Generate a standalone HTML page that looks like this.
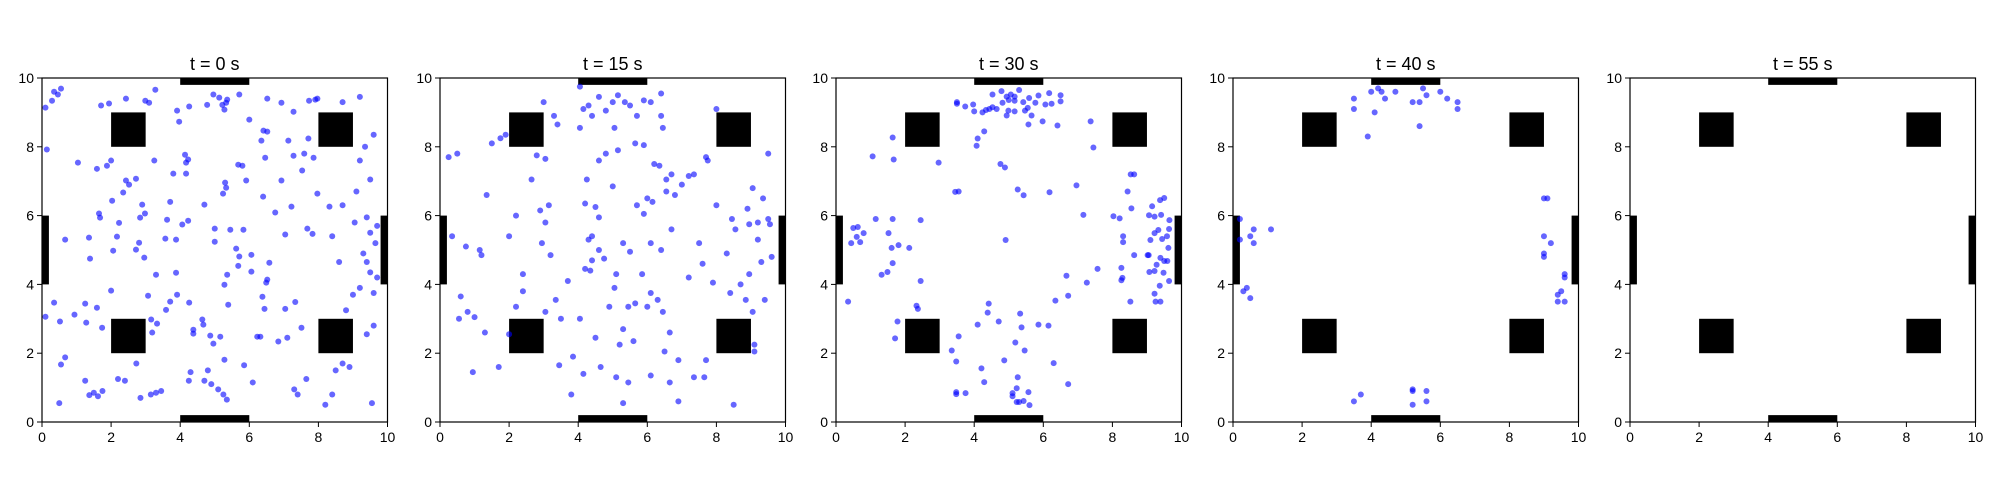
<!DOCTYPE html>
<html><head><meta charset="utf-8"><style>
html,body{margin:0;padding:0;background:#fff;}
svg{display:block;font-family:"Liberation Sans","DejaVu Sans",sans-serif;}
</style></head><body>
<svg id="fig" width="2000" height="500" viewBox="0 0 2000 500" xmlns="http://www.w3.org/2000/svg"></svg>
<script>
const panelTitles = ["t = 0 s","t = 15 s","t = 30 s","t = 40 s","t = 55 s"];
const tickValues = [0,2,4,6,8,10];
const obstacles = [[2,8,1,1],[8,8,1,1],[2,2,1,1],[8,2,1,1],[4,9.8,2,0.2],[4,0,2,0.2],[0,4,0.2,2],[9.8,4,0.2,2]];
const pointsT0 = [[0.1,9.14],[0.29,9.34],[0.35,9.6],[0.46,9.52],[0.55,9.69],[0.14,7.92],[1.04,7.54],[1.71,9.2],[1.94,9.26],[2.43,9.4],[2.99,9.34],[3.1,9.28],[3.28,9.66],[3.91,9.05],[3.97,8.73],[4.26,9.17],[4.78,9.22],[4.96,9.52],[5.13,9.43],[5.22,9.22],[5.28,9.08],[5.33,9.28],[5.36,9.37],[5.71,9.52],[6.0,8.79],[6.52,9.4],[6.35,8.18],[6.41,8.47],[6.52,8.44],[6.93,9.28],[7.28,9.02],[7.13,8.18],[7.73,9.34],[7.91,9.37],[7.97,9.4],[7.71,8.24],[7.28,7.74],[7.59,7.8],[7.86,7.68],[7.53,7.31],[6.46,7.68],[5.68,7.48],[5.8,7.45],[5.91,7.02],[5.3,6.96],[5.33,6.81],[5.24,6.64],[6.4,6.55],[6.93,7.02],[7.22,6.26],[7.97,6.64],[8.32,6.26],[6.75,6.09],[7.04,5.45],[7.68,5.62],[7.83,5.47],[1.59,7.36],[1.88,7.45],[2.0,7.6],[3.25,7.6],[4.14,7.77],[4.23,7.63],[4.17,7.54],[4.17,7.22],[3.8,7.22],[2.43,7.02],[2.52,6.9],[2.72,7.07],[2.35,6.67],[2.03,6.43],[2.9,6.32],[3.71,6.4],[4.7,6.32],[1.65,6.06],[1.68,5.94],[2.23,5.79],[2.84,5.94],[2.98,6.06],[3.62,5.88],[4.06,5.74],[4.23,5.85],[5.0,5.62],[5.45,5.59],[5.83,5.59],[0.67,5.3],[1.36,5.36],[1.39,4.75],[2.17,5.39],[2.06,4.98],[2.72,5.01],[2.81,5.21],[2.96,4.78],[3.57,5.33],[3.88,5.3],[5.0,5.24],[5.62,5.04],[5.71,4.81],[6.06,4.86],[5.68,4.54],[6.06,4.37],[6.58,4.63],[3.3,4.28],[3.88,4.34],[5.36,4.28],[5.28,3.99],[6.52,4.14],[6.49,4.05],[2.0,3.82],[3.07,3.67],[3.91,3.7],[0.35,3.47],[1.25,3.44],[1.59,3.32],[3.71,3.5],[4.26,3.47],[5.39,3.41],[6.38,3.64],[6.44,3.29],[7.04,3.29],[7.33,3.49],[0.1,3.06],[0.94,3.12],[0.52,2.92],[1.28,2.89],[1.74,2.74],[3.16,2.98],[3.33,2.86],[3.59,3.26],[3.19,2.6],[4.64,2.98],[4.67,2.83],[4.38,2.68],[4.38,2.57],[4.87,2.51],[5.16,2.48],[4.96,2.28],[6.23,2.48],[6.32,2.48],[6.84,2.34],[7.1,2.45],[7.51,2.74],[0.67,1.88],[5.28,1.81],[0.55,1.67],[0.5,0.55],[1.25,1.2],[1.37,0.78],[1.5,0.85],[1.62,0.75],[1.75,0.9],[2.2,1.25],[2.4,1.2],[2.73,1.7],[2.85,0.7],[3.15,0.8],[3.3,0.85],[3.45,0.9],[4.25,1.2],[4.3,1.45],[4.7,1.2],[4.9,1.1],[5.1,0.95],[5.25,0.8],[5.35,0.65],[5.85,1.65],[6.1,1.15],[7.3,0.95],[7.4,0.8],[7.65,1.25],[8.2,0.5],[8.4,0.8],[8.5,1.5],[8.7,1.7],[9.55,0.55],[4.8,1.5],[8.7,9.3],[9.2,9.45],[9.6,8.35],[9.35,8.0],[9.2,7.6],[9.5,7.05],[9.1,6.7],[9.4,5.95],[9.05,5.8],[9.5,5.5],[9.65,5.2],[9.3,4.9],[9.4,4.65],[9.5,4.35],[9.7,4.2],[9.2,3.9],[9.6,3.75],[8.8,3.25],[9.4,2.55],[9.6,2.8],[8.6,4.65],[8.4,5.4],[8.7,6.3],[9.0,3.7],[9.7,5.7],[8.9,1.6]];
const pointsT15 = [[0.25,7.7],[0.5,7.8],[0.35,5.4],[0.6,3.65],[0.8,3.2],[1.0,3.05],[0.95,1.45],[0.55,3.0],[1.15,5.0],[1.2,4.85],[1.35,6.6],[1.75,8.25],[1.9,8.35],[2.0,5.4],[2.4,4.3],[2.2,3.35],[2.4,3.8],[2.65,7.05],[2.8,7.75],[3.05,7.65],[3.15,6.3],[2.9,6.15],[3.05,5.8],[2.95,5.2],[3.2,4.85],[3.05,3.2],[3.35,3.55],[3.5,3.0],[3.45,1.65],[3.7,4.1],[3.8,0.8],[4.05,8.55],[3.4,8.65],[3.0,9.3],[4.05,9.75],[4.15,9.1],[4.3,9.2],[4.4,8.9],[4.6,9.45],[4.8,9.05],[5.0,9.3],[5.05,8.55],[5.15,9.5],[5.35,9.3],[5.5,9.2],[5.7,8.9],[5.9,9.35],[6.1,9.3],[6.4,9.55],[6.4,8.9],[6.45,8.55],[5.65,8.1],[5.9,8.05],[5.15,7.9],[4.6,7.6],[4.25,7.05],[4.2,6.35],[4.5,6.25],[4.6,5.95],[4.3,5.3],[4.4,5.4],[4.6,5.0],[4.2,4.45],[4.35,4.4],[4.75,4.75],[5.3,5.2],[5.5,4.95],[5.1,4.3],[5.05,3.9],[4.9,3.35],[5.45,3.35],[5.65,3.45],[5.85,4.3],[5.3,2.7],[5.2,2.25],[5.6,2.35],[5.45,1.15],[5.1,1.3],[5.3,0.55],[4.65,1.6],[4.15,1.4],[4.5,2.45],[6.0,6.5],[6.15,6.4],[6.2,7.5],[6.35,7.45],[6.55,6.7],[6.55,7.05],[6.7,7.2],[6.8,6.6],[7.0,6.9],[7.2,7.15],[7.35,7.2],[7.75,7.6],[7.7,7.7],[6.1,5.2],[6.4,5.0],[6.1,3.75],[6.3,3.55],[6.0,3.35],[6.45,3.2],[6.65,2.6],[6.5,2.05],[6.9,1.8],[6.65,1.15],[6.9,0.6],[7.35,1.3],[7.65,1.3],[7.7,1.8],[7.9,4.05],[8.3,4.9],[8.55,5.6],[8.45,5.9],[8.9,6.2],[9.05,6.8],[9.35,6.5],[9.5,5.9],[9.55,5.75],[8.95,5.75],[9.2,5.3],[9.3,4.65],[8.95,4.3],[8.85,3.55],[9.05,3.2],[9.4,3.55],[9.1,2.25],[9.1,2.05],[8.5,0.5],[8.4,3.75],[8.0,9.1],[9.5,7.8],[0.75,5.1],[1.7,1.6],[1.3,2.6],[2.0,2.55],[3.85,1.9],[5.0,6.85],[4.8,7.8],[4.05,3.0],[6.1,1.35],[1.5,8.1],[2.2,6.0],[3.3,8.9],[4.4,4.7],[5.7,6.3],[5.9,6.05],[6.7,5.6],[7.5,5.2],[7.6,4.6],[7.2,4.2],[8.0,6.3],[9.6,4.8],[9.2,5.8],[8.7,4.0]];
const pointsT30 = [[3.5,9.25],[3.5,9.3],[3.74,9.17],[3.97,9.23],[4.0,9.03],[4.24,9.0],[4.29,8.45],[4.1,8.24],[4.07,8.03],[4.34,9.07],[4.44,9.1],[4.53,9.15],[4.65,9.1],[4.53,9.52],[4.79,9.62],[4.82,9.28],[4.94,9.46],[5.0,9.36],[5.06,9.52],[5.17,9.46],[5.17,9.34],[5.3,9.65],[4.99,9.05],[4.94,8.91],[5.17,9.03],[5.42,9.3],[5.47,9.05],[5.59,9.42],[5.55,9.13],[5.66,8.91],[5.57,8.65],[5.77,9.28],[5.86,9.49],[5.98,8.74],[6.06,9.23],[6.17,9.56],[6.24,9.25],[6.41,8.62],[6.5,9.5],[6.5,9.32],[7.37,8.74],[7.45,7.98],[1.64,8.27],[1.06,7.72],[1.67,7.63],[2.97,7.54],[4.76,7.5],[4.89,7.4],[3.45,6.69],[3.55,6.7],[5.26,6.76],[5.43,6.59],[6.18,6.68],[6.96,6.88],[7.16,6.02],[1.15,5.9],[1.64,5.9],[2.45,5.87],[0.5,5.64],[0.63,5.67],[0.6,5.38],[0.8,5.49],[0.44,5.2],[0.7,5.23],[1.52,5.49],[1.61,5.06],[1.81,5.14],[2.12,5.06],[1.64,4.62],[1.49,4.36],[1.32,4.28],[2.45,4.1],[4.91,5.29],[0.35,3.5],[8.53,7.2],[8.63,7.2],[8.44,6.7],[8.55,6.21],[8.03,5.98],[8.21,5.92],[8.31,5.4],[8.31,5.23],[8.63,4.85],[9.02,4.85],[9.05,4.85],[9.15,6.27],[9.38,6.45],[9.5,6.51],[9.06,6.01],[9.22,5.97],[9.41,6.02],[9.65,5.87],[9.64,5.61],[9.33,5.58],[9.22,5.49],[9.58,5.4],[9.44,5.32],[9.1,5.29],[9.62,5.06],[9.39,4.77],[9.28,4.57],[9.5,4.68],[9.59,4.68],[9.07,4.36],[9.22,4.39],[9.48,4.34],[9.64,4.1],[9.37,3.96],[9.22,3.73],[9.25,3.5],[9.39,3.5],[8.52,3.5],[8.26,4.48],[8.29,4.19],[8.26,4.12],[7.57,4.45],[7.26,4.05],[6.67,4.25],[6.72,3.67],[6.35,3.53],[1.78,2.92],[1.71,2.43],[2.33,3.38],[2.37,3.29],[4.42,3.44],[4.39,3.18],[4.1,2.83],[4.71,2.92],[5.33,3.15],[5.37,2.75],[5.86,2.83],[6.15,2.8],[3.55,2.49],[3.35,2.08],[3.48,1.76],[4.87,1.79],[5.19,2.31],[5.46,2.08],[6.3,1.71],[4.21,1.56],[4.29,1.16],[6.72,1.1],[5.26,1.3],[5.23,0.98],[3.48,0.87],[3.48,0.81],[3.75,0.84],[5.11,0.84],[5.11,0.75],[5.57,0.87],[5.23,0.58],[5.3,0.58],[5.43,0.61],[5.6,0.49]];
const pointsT40 = [[3.5,9.4],[3.5,9.1],[4.0,9.6],[4.2,9.7],[4.1,9.0],[3.9,8.3],[4.4,9.4],[4.7,9.6],[5.2,9.3],[5.4,9.3],[5.5,9.7],[5.4,8.6],[5.6,9.5],[6.0,9.6],[6.2,9.4],[6.5,9.3],[6.5,9.1],[4.3,9.6],[0.2,5.3],[0.5,5.4],[0.6,5.6],[0.6,5.2],[1.1,5.6],[0.3,3.8],[0.4,3.9],[0.5,3.6],[0.2,5.9],[9.0,6.5],[9.1,6.5],[9.0,5.4],[9.2,5.2],[9.0,4.9],[9.0,4.8],[9.6,4.3],[9.6,4.2],[9.5,3.8],[9.4,3.7],[9.6,3.5],[9.4,3.5],[3.5,0.6],[3.7,0.8],[5.2,0.9],[5.2,0.95],[5.2,0.5],[5.6,0.9],[5.6,0.6]];
const pointsT55 = [];
const panelPoints = [pointsT0,pointsT15,pointsT30,pointsT40,pointsT55];

const NS="http://www.w3.org/2000/svg";
const svg=document.getElementById('fig');
const panelLefts=[42,440,836,1233,1630];
const W=345.5, TOP=78, H=344;
function mk(tag,attrs,parent){const e=document.createElementNS(NS,tag);for(const k in attrs)e.setAttribute(k,attrs[k]);parent.appendChild(e);return e;}
panelTitles.forEach((title,p)=>{
  const L=panelLefts[p];
  const sx=v=>L+v/10*W, sy=v=>TOP+H-v/10*H;
  const g=mk('g',{},svg);
  
  
  const t=mk('text',{x:L+W/2,y:TOP-8,'text-anchor':'middle','font-size':18,fill:'#000'},g);
  t.textContent=title;
  
  
  obstacles.forEach(o=>{
    const r=mk('rect',{x:sx(o[0]),y:sy(o[1]+o[3]),width:sx(o[0]+o[2])-sx(o[0]),height:sy(o[1])-sy(o[1]+o[3]),fill:'#000'},g);
    
    
  });
  panelPoints[p].forEach(pt=>{
    const c=mk('circle',{cx:sx(pt[0]),cy:sy(pt[1]),r:3,fill:'rgba(0,0,255,0.6)'},g);
    
    
  });
  const fr=mk('rect',{x:L,y:TOP,width:W,height:H,fill:'none',stroke:'#000','stroke-width':1.2},g);
  
  
  tickValues.forEach(v=>{
    mk('line',{x1:sx(v),x2:sx(v),y1:TOP+H,y2:TOP+H+5,stroke:'#000'},g);
    const xl=mk('text',{x:sx(v),y:TOP+H+20,'text-anchor':'middle','font-size':14},g);
    xl.textContent=v;
    
    
    mk('line',{x1:L-5,x2:L,y1:sy(v),y2:sy(v),stroke:'#000'},g);
    const yl=mk('text',{x:L-8,y:sy(v)+5,'text-anchor':'end','font-size':14},g);
    yl.textContent=v;
    
    
  });
});
</script>
</body></html>
